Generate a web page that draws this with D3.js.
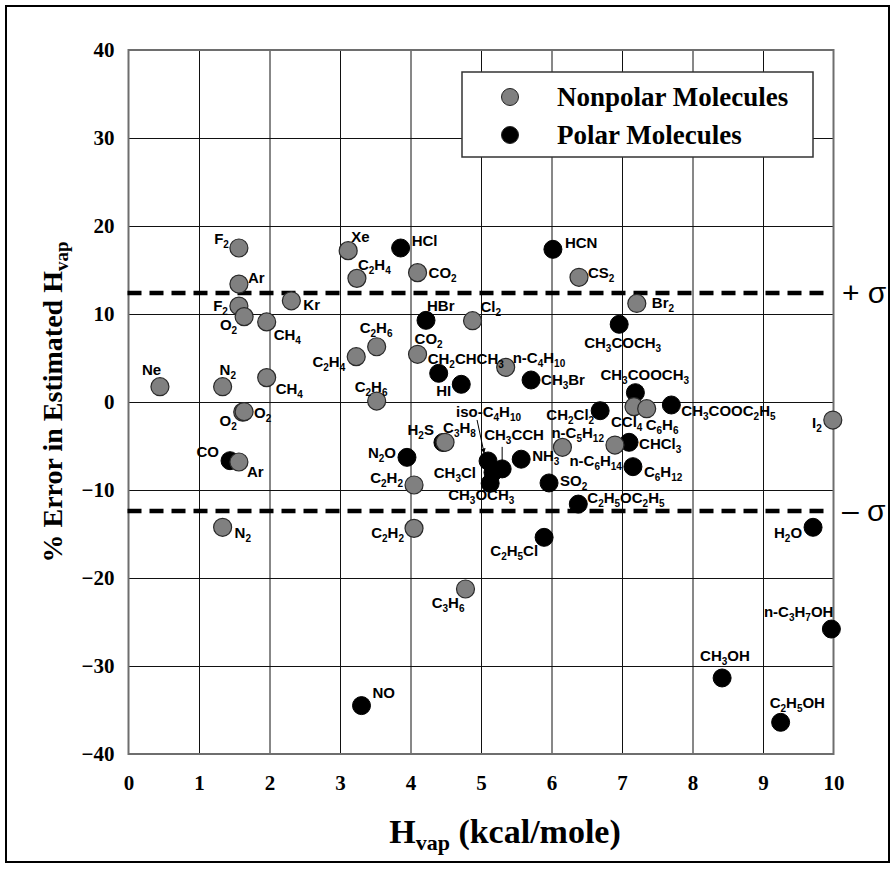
<!DOCTYPE html>
<html><head><meta charset="utf-8">
<script src="https://cdn.jsdelivr.net/npm/d3@7"></script>
<style>
html,body{margin:0;padding:0;background:#fff;}
svg{display:block;}
</style></head>
<body>
<svg id="chart" width="896" height="869"></svg>
<script>
// ---------- DATA ----------
const xTickValues = [0,1,2,3,4,5,6,7,8,9,10];
const yTickValues = [-40,-30,-20,-10,0,10,20,30,40];
const sigmaValue = 12.4;
const seriesNames = ["Nonpolar Molecules", "Polar Molecules"];

const nonpolarNames = ["Ne","N2","N2","F2","Ar","F2","O2","CH4","CH4","O2","O2","Ar","Kr","Xe","C2H4","C2H4","C2H6","C2H6","CO2","CO2","Cl2","C2H2","C2H2","C3H8","C3H6","n-C4H10","CS2","Br2","n-C5H12","n-C6H14","CCl4","C6H6","I2"];
const nonpolarHvap = [0.446,1.335,1.335,1.566,1.566,1.566,1.64,1.96,1.96,1.62,1.64,1.566,2.31,3.116,3.24,3.23,3.52,3.52,4.10,4.10,4.88,4.05,4.05,4.49,4.78,5.35,6.39,7.21,6.155,6.90,7.17,7.35,9.99];
const nonpolarError = [1.74,1.74,-14.24,17.5,13.4,10.9,9.7,9.1,2.77,-1.15,-1.1,-6.82,11.5,17.2,14.05,5.15,6.28,0.11,14.7,5.42,9.24,-9.43,-14.36,-4.58,-21.25,3.94,14.17,11.2,-5.15,-4.89,-0.53,-0.76,-2.05];

const polarNames = ["CO","N2O","NO","HCl","HBr","H2S","CH2CHCH3","HI","iso-C4H10","CH3CCH","CH3Cl","CH3OCH3","NH3","SO2","CH3Br","HCN","C2H5Cl","C2H5OC2H5","CH2Cl2","CH3COCH3","CH3COOCH3","CHCl3","C6H12","CH3COOC2H5","CH3OH","C2H5OH","H2O","n-C3H7OH"];
const polarHvap = [1.44,3.95,3.305,3.86,4.22,4.46,4.40,4.72,5.10,5.30,5.17,5.13,5.57,5.965,5.71,6.02,5.895,6.38,6.69,6.96,7.19,7.10,7.155,7.70,8.42,9.25,9.71,9.97];
const polarError = [-6.67,-6.29,-34.5,17.5,9.28,-4.6,3.26,2.01,-6.7,-7.6,-8.0,-9.24,-6.5,-9.2,2.5,17.35,-15.38,-11.6,-0.99,8.83,1.06,-4.58,-7.35,-0.34,-31.36,-36.4,-14.24,-25.8];

// ---------- LABEL LAYOUT (pixel offsets from point centre: dx, baseline dy, anchor) ----------
const nonpolarLabelLayout = [[-18,-12,"start"],[-3,-12,"start"],[12,11,"start"],[-10,-4,"end"],[9,-1,"start"],[-11,5,"end"],[-7,13,"end"],[7,18,"start"],[9,16,"start"],[-6,14,"end"],[10,6,"start"],[8,15,"start"],[12,9,"start"],[3,-9,"start"],[1,-8,"start"],[-11,10,"end"],[-17,-14,"start"],[-22,-9,"start"],[11,5,"start"],[-3,-10,"start"],[8,-9,"start"],[-11,-2,"end"],[-10,10,"end"],[-2,-9,"start"],[-1,19,"end"],[7,-4,"start"],[9,1,"start"],[15,5,"start"],[-11,-9,"start"],[7,21,"end"],[-23,20,"start"],[-1,21,"start"],[-11,8,"end"]];
const polarLabelLayout = [[-11,-4,"end"],[-11,1,"end"],[11,-8,"start"],[11,-2,"start"],[1,-9,"start"],[-9,-7,"end"],[-11,-9,"start"],[-10,12,"end"],[-32,-44,"start"],[-18,-29,"start"],[-17,6,"end"],[-42,17,"start"],[11,2,"start"],[11,3,"start"],[10,5,"start"],[12,-1,"start"],[-6,19,"end"],[9,-1,"start"],[-6,9,"end"],[-35,24,"start"],[-35,-13,"start"],[10,7,"start"],[11,10,"start"],[10,11,"start"],[-22,-17,"start"],[-11,-14,"start"],[-11,11,"end"],[2,-12,"end"]];

// ---------- LAYOUT ----------
const L = 128.5, R = 833.5, T = 50, B = 754;
const x = d3.scaleLinear().domain([0,10]).range([L,R]);
const y = d3.scaleLinear().domain([-40,40]).range([B,T]);
const svg = d3.select("#chart");
const serif = "'Liberation Serif','Times New Roman',serif";
const sans = "'Liberation Sans',Arial,Helvetica,sans-serif";

svg.append("rect").attr("x",0).attr("y",0).attr("width",896).attr("height",869).attr("fill","#fff");
// outer border
svg.append("rect").attr("x",6).attr("y",6).attr("width",883).attr("height",856)
  .attr("fill","none").attr("stroke","#000").attr("stroke-width",2);

// grid
const gx = svg.append("g").attr("transform",`translate(0,${B})`)
  .call(d3.axisBottom(x).tickValues(xTickValues.slice(1,-1)).tickSize(-(B-T)).tickFormat(""));
gx.select(".domain").remove();
gx.selectAll("line").attr("stroke","#111").attr("stroke-width",1);
const gy = svg.append("g").attr("transform",`translate(${L},0)`)
  .call(d3.axisLeft(y).tickValues(yTickValues.slice(1,-1)).tickSize(-(R-L)).tickFormat(""));
gy.select(".domain").remove();
gy.selectAll("line").attr("stroke","#111").attr("stroke-width",1);

// frame
svg.append("rect").attr("x",L).attr("y",T).attr("width",R-L).attr("height",B-T)
  .attr("fill","none").attr("stroke","#6e6e6e").attr("stroke-width",2);

// tick labels
const ax = svg.append("g").attr("transform",`translate(0,${B})`)
  .call(d3.axisBottom(x).tickValues(xTickValues).tickSize(0).tickPadding(21).tickFormat(d3.format("d")));
ax.select(".domain").remove();
ax.selectAll("text").attr("font-family",serif).attr("font-weight","bold").attr("font-size",21).attr("fill","#000");
const ay = svg.append("g").attr("transform",`translate(${L},0)`)
  .call(d3.axisLeft(y).tickValues(yTickValues).tickSize(0).tickPadding(14).tickFormat(d3.format("d")));
ay.select(".domain").remove();
ay.selectAll("text").attr("font-family",serif).attr("font-weight","bold").attr("font-size",21).attr("fill","#000");

// sigma lines
[sigmaValue, -sigmaValue].forEach(v => {
  svg.append("line").attr("x1",x(0)-1).attr("x2",x(10)-2).attr("y1",y(v)).attr("y2",y(v))
    .attr("stroke","#000").attr("stroke-width",4.5).attr("stroke-dasharray","14,8");
});
svg.append("text").attr("x",842).attr("y",y(sigmaValue)+10).attr("font-family",sans).attr("font-size",30).text("+ σ");
svg.append("text").attr("x",842).attr("y",y(-sigmaValue)+10).attr("font-family",sans).attr("font-size",30).text("– σ");

// legend
const lg = svg.append("g");
lg.append("rect").attr("x",462).attr("y",72).attr("width",351).attr("height",85)
  .attr("fill","#fff").attr("stroke","#333").attr("stroke-width",1.5);
const legendColors = ["#808080","#000"];
seriesNames.forEach((n,i) => {
  const cy = i === 0 ? 97 : 135;
  lg.append("circle").attr("cx",510).attr("cy",cy).attr("r",8.5)
    .attr("fill",legendColors[i]).attr("stroke","#222").attr("stroke-width",1);
  lg.append("text").attr("x",557).attr("y",cy+9).attr("font-family",serif).attr("font-weight","bold")
    .attr("font-size",27).text(n);
});

// points
function rows(names, xs, ys, layout){ return names.map((n,i)=>({name:n, hv:xs[i], err:ys[i], lay:layout[i]})); }
const polar = rows(polarNames, polarHvap, polarError, polarLabelLayout);
const nonpolar = rows(nonpolarNames, nonpolarHvap, nonpolarError, nonpolarLabelLayout);

svg.append("g").selectAll("circle").data(polar).join("circle")
  .attr("cx",d=>x(d.hv)).attr("cy",d=>y(d.err)).attr("r",9)
  .attr("fill","#000").attr("stroke","#000").attr("stroke-width",1);
svg.append("g").selectAll("circle").data(nonpolar).join("circle")
  .attr("cx",d=>x(d.hv)).attr("cy",d=>y(d.err)).attr("r",9)
  .attr("fill","#808080").attr("stroke","#2a2a2a").attr("stroke-width",1.2);

// labels with chemical subscripts
function addLabel(g, d){
  const t = g.append("text").attr("x", x(d.hv)+d.lay[0]).attr("y", y(d.err)+d.lay[1])
    .attr("text-anchor", d.lay[2]).attr("font-family",sans).attr("font-weight","bold")
    .attr("font-size",15).attr("fill","#000");
  const parts = [];
  const s = d.name;
  for (let i=0;i<s.length;i++){
    const c = s[i];
    const isSub = /[0-9]/.test(c) && i>0 && /[A-Za-z0-9]/.test(s[i-1]);
    if (parts.length && parts[parts.length-1].sub === isSub) parts[parts.length-1].t += c;
    else parts.push({t:c, sub:isSub});
  }
  let shifted = 0;
  parts.forEach(p => {
    const ts = t.append("tspan").text(p.t);
    if (p.sub){ ts.attr("font-size",10).attr("dy", 4 - shifted); shifted = 4; }
    else { if (shifted){ ts.attr("dy", -shifted); shifted = 0; } }
  });
}
const lblG = svg.append("g");
polar.forEach(d => addLabel(lblG, d));
nonpolar.forEach(d => addLabel(lblG, d));

// arrows for crowded labels
svg.append("defs").append("marker").attr("id","ah").attr("viewBox","0 0 10 10").attr("refX",9).attr("refY",5)
  .attr("markerWidth",5).attr("markerHeight",6).attr("orient","auto")
  .append("path").attr("d","M0,0 L10,5 L0,10 z").attr("fill","#000");
const iso = polar.find(d=>d.name==="iso-C4H10");
const cch = polar.find(d=>d.name==="CH3CCH");
svg.append("line").attr("x1",x(iso.hv)-11).attr("y1",y(iso.err)-41).attr("x2",x(iso.hv)-4).attr("y2",y(iso.err)-8)
  .attr("stroke","#000").attr("stroke-width",1).attr("marker-end","url(#ah)");
svg.append("line").attr("x1",x(cch.hv)).attr("y1",y(cch.err)-22).attr("x2",x(cch.hv)).attr("y2",y(cch.err)-4)
  .attr("stroke","#000").attr("stroke-width",1).attr("marker-end","url(#ah)");

// axis titles
const xt = svg.append("text").attr("x",505).attr("y",843).attr("text-anchor","middle")
  .attr("font-family",serif).attr("font-weight","bold").attr("font-size",34);
xt.append("tspan").text("H");
xt.append("tspan").attr("font-size",22).attr("dy",7).text("vap");
xt.append("tspan").attr("dy",-7).text(" (kcal/mole)");

const yt = svg.append("text").attr("transform",`translate(62,${(T+B)/2}) rotate(-90)`).attr("text-anchor","middle")
  .attr("font-family",serif).attr("font-weight","bold").attr("font-size",28);
yt.append("tspan").text("% Error in Estimated H");
yt.append("tspan").attr("font-size",19).attr("dy",6).text("vap");
</script>
</body></html>
